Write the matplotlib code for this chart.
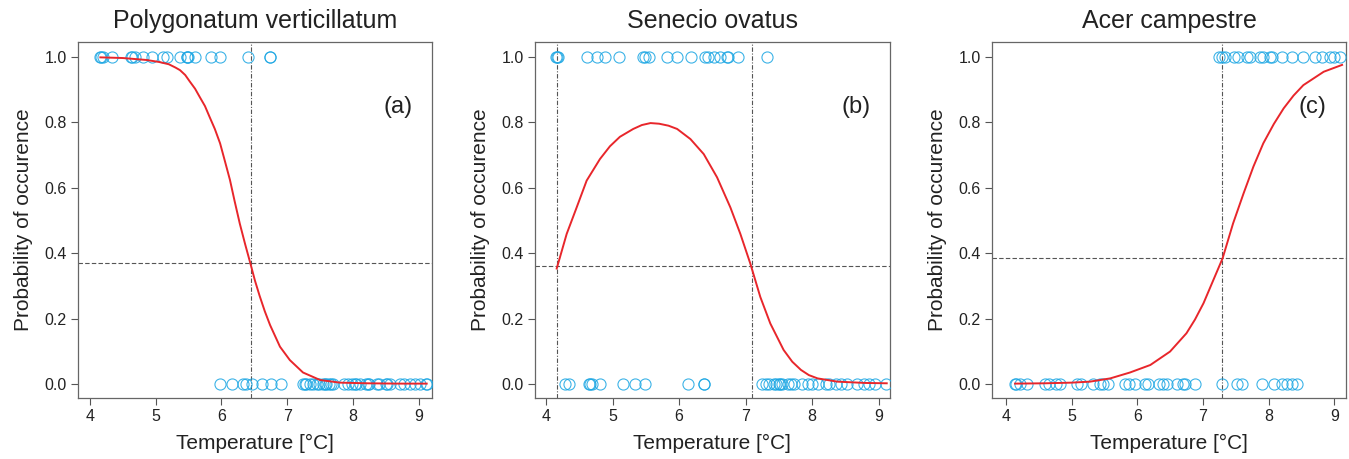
import numpy as np
import matplotlib.pyplot as plt

# FONT
plt.rcParams["font.family"] = ["Liberation Sans", "DejaVu Sans"]

# PANEL TITLES
titles = ["Polygonatum verticillatum", "Senecio ovatus", "Acer campestre"]
letters = ["(a)", "(b)", "(c)"]

# OBSERVED PRESENCES (y = 1)
pres_a = [4.16, 4.17, 4.20, 4.33, 4.63, 4.64, 4.68, 4.81, 4.94, 5.11, 5.17,
          5.37, 5.47, 5.48, 5.49, 5.60, 5.84, 5.98, 6.41, 6.74, 6.74]
pres_b = [4.15, 4.17, 4.18, 4.61, 4.76, 4.89, 5.09, 5.45, 5.48, 5.54, 5.82,
          5.97, 6.18, 6.39, 6.44, 6.52, 6.62, 6.72, 6.74, 6.89, 7.32]
pres_c = [7.24, 7.29, 7.34, 7.47, 7.54, 7.67, 7.72, 7.87, 7.92, 8.02, 8.05,
          8.20, 8.35, 8.53, 8.71, 8.81, 8.94, 8.99, 9.09]

# OBSERVED ABSENCES (y = 0)
abs_a = [5.98, 6.16, 6.33, 6.37, 6.46, 6.61, 6.75, 6.91, 7.24, 7.27, 7.29,
         7.34, 7.39, 7.45, 7.49, 7.54, 7.57, 7.59, 7.64, 7.66, 7.69, 7.87,
         7.92, 7.99, 8.03, 8.05, 8.10, 8.20, 8.23, 8.25, 8.36, 8.40, 8.50,
         8.52, 8.56, 8.71, 8.78, 8.86, 8.94, 9.02, 9.11, 9.12]
abs_b = [4.29, 4.34, 4.65, 4.66, 4.69, 4.81, 5.16, 5.34, 5.48, 6.14, 6.37,
         6.38, 7.25, 7.30, 7.35, 7.43, 7.45, 7.50, 7.52, 7.55, 7.63, 7.68,
         7.73, 7.85, 7.93, 8.00, 8.08, 8.20, 8.25, 8.35, 8.43, 8.53, 8.68,
         8.78, 8.85, 8.95, 9.11]
abs_c = [4.14, 4.16, 4.21, 4.32, 4.59, 4.65, 4.77, 4.82, 5.08, 5.15, 5.33,
         5.43, 5.48, 5.56, 5.81, 5.87, 5.97, 6.12, 6.17, 6.33, 6.40, 6.45,
         6.60, 6.70, 6.73, 6.88, 7.29, 7.52, 7.60, 7.90, 8.08, 8.20, 8.28,
         8.35, 8.43]

# FITTED RESPONSE CURVES
fit_a_x = [4.16, 4.5, 4.86, 5.05, 5.2, 5.3, 5.37, 5.45, 5.52, 5.6, 5.67,
           5.75, 5.82, 5.9, 5.98, 6.05, 6.13, 6.2, 6.28, 6.36, 6.44, 6.51,
           6.58, 6.66, 6.74, 6.89, 7.04, 7.24, 7.50, 7.80, 8.2, 8.7, 9.12]
fit_a_p = [0.999, 0.997, 0.991, 0.985, 0.978, 0.968, 0.96, 0.945, 0.925,
           0.903, 0.878, 0.85, 0.817, 0.78, 0.736, 0.684, 0.624, 0.56,
           0.49, 0.428, 0.369, 0.316, 0.27, 0.222, 0.18, 0.114, 0.073,
           0.035, 0.012, 0.004, 0.002, 0.001, 0.001]
fit_b_x = [4.16, 4.31, 4.46, 4.61, 4.81, 4.96, 5.11, 5.31, 5.44, 5.57, 5.7,
           5.84, 5.97, 6.17, 6.37, 6.57, 6.77, 6.92, 7.07, 7.22, 7.37, 7.57,
           7.7, 7.83, 7.95, 8.08, 8.38, 8.8, 9.12]
fit_b_p = [0.353, 0.459, 0.54, 0.622, 0.688, 0.727, 0.756, 0.78, 0.792,
           0.798, 0.796, 0.79, 0.78, 0.749, 0.703, 0.632, 0.54, 0.459,
           0.368, 0.266, 0.185, 0.104, 0.068, 0.043, 0.027, 0.017, 0.007,
           0.003, 0.002]
fit_c_x = [4.14, 4.6, 5.0, 5.28, 5.59, 5.89, 6.20, 6.50, 6.75, 6.88, 7.01,
           7.16, 7.30, 7.46, 7.62, 7.77, 7.92, 8.08, 8.23, 8.38, 8.53, 8.84,
           9.12]
fit_c_p = [0.001, 0.002, 0.004, 0.007, 0.017, 0.035, 0.058, 0.099, 0.155,
           0.197, 0.247, 0.318, 0.384, 0.491, 0.583, 0.665, 0.736, 0.795,
           0.843, 0.882, 0.914, 0.955, 0.976]

# THRESHOLDS
thresh_p = [0.37, 0.36, 0.385]
thresh_t = [[6.45], [4.17, 7.09], [7.29]]

presences = [pres_a, pres_b, pres_c]
absences = [abs_a, abs_b, abs_c]
fits = [(fit_a_x, fit_a_p), (fit_b_x, fit_b_p), (fit_c_x, fit_c_p)]

# AXES LAYOUT (figure fractions)
lefts = [0.0578, 0.3966, 0.7354]
widths = [0.2624, 0.2630, 0.2624]
xlims = [(3.82, 9.20), (3.834, 9.166), (3.79, 9.18)]

fig = plt.figure(figsize=(13.49, 4.59), dpi=100)

for i in range(3):

    ax = fig.add_axes([lefts[i], 0.1329, widths[i], 0.7756])

    # POINTS
    ax.plot(presences[i], np.ones(len(presences[i])), "o",
            markerfacecolor="none", markeredgecolor="#1ba6e3",
            markersize=8, markeredgewidth=0.8, alpha=0.85, zorder=3)
    ax.plot(absences[i], np.zeros(len(absences[i])), "o",
            markerfacecolor="none", markeredgecolor="#1ba6e3",
            markersize=8, markeredgewidth=0.8, alpha=0.85, zorder=3)

    # THRESHOLD LINES
    ax.axhline(thresh_p[i], color="#555555", linestyle=(0, (4, 2)),
               linewidth=0.8, zorder=1)
    for t in thresh_t[i]:
        ax.axvline(t, color="#555555", linestyle=(0, (4, 1.5, 1, 1.5)),
                   linewidth=0.8, zorder=1)

    # CURVE
    ax.plot(fits[i][0], fits[i][1], color="#e8262b", linewidth=1.4,
            zorder=4)

    # LIMITS AND TICKS
    ax.set_xlim(xlims[i])
    ax.set_ylim(-0.043, 1.046)
    ax.set_xticks([4, 5, 6, 7, 8, 9])
    ax.set_yticks([0.0, 0.2, 0.4, 0.6, 0.8, 1.0])
    ax.set_yticklabels(["0.0", "0.2", "0.4", "0.6", "0.8", "1.0"])
    ax.tick_params(direction="out", length=5, width=0.8, color="#555555",
                   labelsize=11.5, labelcolor="#222222", pad=3)

    for spine in ax.spines.values():
        spine.set_color("#666666")
        spine.set_linewidth(0.9)

    # TEXT
    ax.set_title(titles[i], fontsize=18, color="#222222", pad=10)
    ax.set_xlabel("Temperature [°C]", fontsize=15, color="#222222",
                  labelpad=7)
    ax.set_ylabel("Probability of occurence", fontsize=15,
                  color="#222222", labelpad=8)
    ax.text(0.904, 0.817, letters[i], transform=ax.transAxes,
            fontsize=17, color="#222222", ha="center", va="center")

plt.savefig("out.png", dpi=100)
plt.close()
